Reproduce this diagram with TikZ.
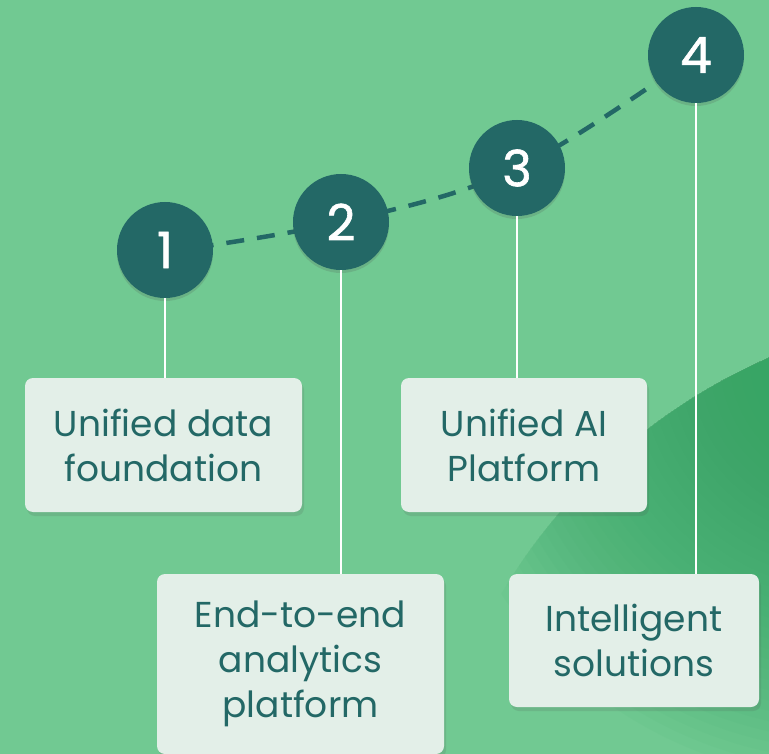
\documentclass[tikz,border=0pt]{standalone}
\usepackage{fontspec}
\setmainfont{Poppins}
\newfontfamily\numfont[FakeBold=1.2]{Poppins}
\usetikzlibrary{shadows}
\definecolor{bgc}{HTML}{71C992}
\definecolor{darkg}{HTML}{36A565}
\definecolor{teal}{HTML}{236866}
\definecolor{boxc}{HTML}{E3EFE8}
\tikzset{
  numnode/.style={circle, fill=teal, minimum size=96pt, inner sep=0pt, text=white,
    font=\numfont\fontsize{50}{50}\selectfont,
    drop shadow={shadow xshift=0pt, shadow yshift=-3pt, opacity=0.18, fill=black!70}},
  boxnode/.style={rectangle, rounded corners=8pt, fill=boxc, text=teal, align=center,
    inner sep=0pt, font=\fontsize{36}{45}\selectfont,
    drop shadow={shadow xshift=2pt, shadow yshift=-4pt, opacity=0.15, fill=black!70}},
  conn/.style={draw=white, line width=2pt},
  pathline/.style={draw=teal, line width=4.5pt, dash pattern=on 18pt off 13pt}
}
\begin{document}
\begin{tikzpicture}[x=1pt,y=-1pt]
\useasboundingbox (0,0) rectangle (769,754);
\fill[bgc] (0,0) rectangle (769,754);
\begin{scope}
  \clip (1000,890) circle (580pt);
  \foreach \r in {420,410,...,10} {
    \fill[darkg, opacity=0.05] (850,360) circle (\r pt);
  }
\end{scope}
% dashed path
\draw[pathline] plot[smooth, tension=0.6] coordinates {(165,252) (341,222) (518,168) (695,55)};
% boxes
\node[boxnode, minimum width=277pt, minimum height=134pt] (b1) at (163.5,445) {Unified data\\foundation};
\node[boxnode, minimum width=287pt, minimum height=180pt] (b2) at (300.5,664) {End-to-end\\analytics\\platform};
\node[boxnode, minimum width=246pt, minimum height=134pt] (b3) at (524,445) {Unified AI\\Platform};
\node[boxnode, minimum width=250pt, minimum height=133pt] (b4) at (634,640.5) {Intelligent\\solutions};
% circles
\node[numnode] (c1) at (165,250) {1};
\node[numnode] (c2) at (341,222) {2};
\node[numnode] (c3) at (517,168) {3};
\node[numnode] (c4) at (696,55) {4};
% connectors
\draw[conn] (c1.south) -- (c1.south |- b1.north);
\draw[conn] (c2.south) -- (c2.south |- b2.north);
\draw[conn] (c3.south) -- (c3.south |- b3.north);
\draw[conn] (c4.south) -- (c4.south |- b4.north);
\end{tikzpicture}
\end{document}
